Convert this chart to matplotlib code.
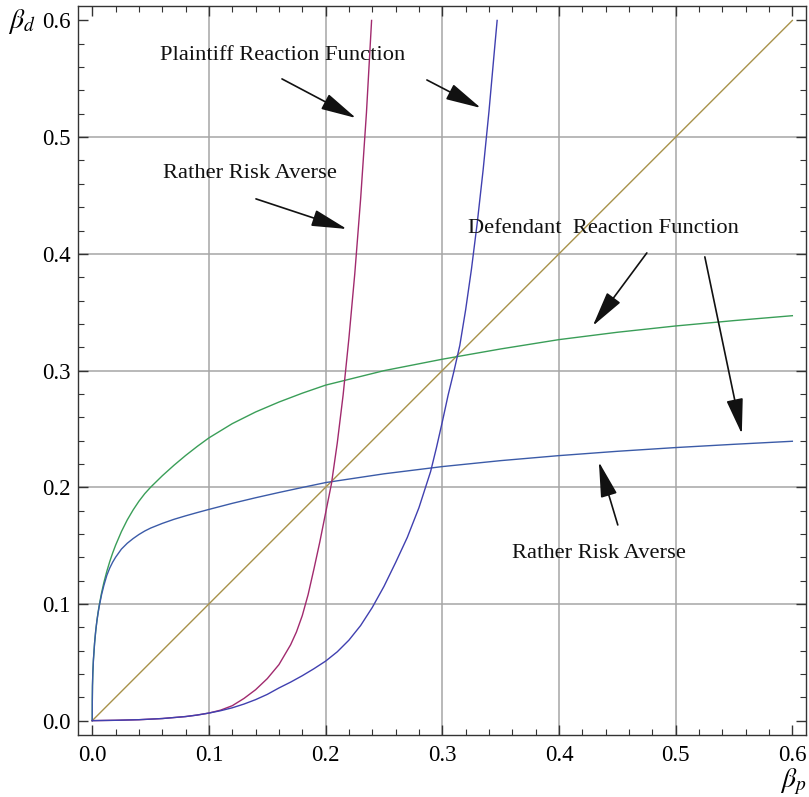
import numpy as np
import matplotlib.pyplot as plt
from matplotlib.ticker import MultipleLocator

plt.rcParams['font.family'] = ['Liberation Serif', 'DejaVu Serif']
plt.rcParams['mathtext.fontset'] = 'stix'

# 45 degree line
diag_x = [0.0, 0.6]
diag_y = [0.0, 0.6]

# defendant reaction function (green)
def_x = [0, 0.00005, 0.0002, 0.0005, 0.001, 0.002, 0.003, 0.004, 0.005, 0.006, 0.008,
         0.01, 0.0125, 0.015, 0.0175, 0.02, 0.025, 0.03, 0.035, 0.04, 0.045, 0.05,
         0.06, 0.07, 0.08, 0.09, 0.1, 0.12, 0.14, 0.16, 0.18, 0.2, 0.25, 0.3, 0.35,
         0.4, 0.45, 0.5, 0.55, 0.6]
def_y = [0, 0.017, 0.03, 0.041, 0.052, 0.0665, 0.0772, 0.0857, 0.0928, 0.099, 0.1096,
         0.1185, 0.128, 0.1363, 0.1437, 0.1503, 0.162, 0.172, 0.1805, 0.188, 0.1945, 0.2,
         0.2098, 0.2188, 0.2272, 0.235, 0.2423, 0.2545, 0.2645, 0.273, 0.2806, 0.2875, 0.2999, 0.3097, 0.3185,
         0.3265, 0.3328, 0.3382, 0.3428, 0.347]

# defendant, rather risk averse (blue)
defra_x = [0, 0.00005, 0.0002, 0.0005, 0.001, 0.002, 0.003, 0.004, 0.005, 0.006, 0.008,
           0.01, 0.0125, 0.015, 0.0175, 0.02, 0.025, 0.03, 0.035, 0.04, 0.045, 0.05,
           0.06, 0.07, 0.08, 0.09, 0.1, 0.12, 0.14, 0.16, 0.18, 0.2, 0.25, 0.3, 0.35,
           0.4, 0.45, 0.5, 0.55, 0.6]
defra_y = [0, 0.017, 0.03, 0.041, 0.052, 0.0665, 0.0772, 0.0855, 0.0922, 0.098, 0.108,
           0.116, 0.1245, 0.1308, 0.1358, 0.14, 0.147, 0.152, 0.156, 0.1595, 0.1625, 0.165,
           0.169, 0.1725, 0.1755, 0.1783, 0.181, 0.1862, 0.191, 0.1955, 0.1998, 0.204, 0.2115, 0.2177, 0.2228,
           0.2271, 0.2308, 0.234, 0.2368, 0.2394]

# plaintiff reaction function (magenta)
pl_x = [0, 0.02, 0.04, 0.06, 0.08, 0.09, 0.1, 0.11, 0.12, 0.13, 0.14, 0.15, 0.16, 0.17,
        0.175, 0.18, 0.185, 0.19, 0.195, 0.2, 0.205, 0.21, 0.215, 0.22, 0.225, 0.23,
        0.235, 0.2394]
pl_y = [0, 0.0003, 0.0008, 0.0018, 0.0035, 0.0048, 0.0065, 0.009, 0.0128, 0.019, 0.0265,
        0.036, 0.048, 0.065, 0.076, 0.09, 0.108, 0.13, 0.153, 0.178, 0.203, 0.238,
        0.279, 0.328, 0.383, 0.447, 0.521, 0.6]

# plaintiff, rather risk averse (purple blue)
plra_x = [0, 0.02, 0.04, 0.06, 0.08, 0.09, 0.1, 0.11, 0.12, 0.13, 0.14, 0.15, 0.16, 0.17,
          0.18, 0.19, 0.2, 0.21, 0.22, 0.23, 0.24, 0.25, 0.26, 0.27, 0.28, 0.29, 0.295,
          0.3, 0.305, 0.31, 0.315, 0.32, 0.325, 0.33, 0.335, 0.34, 0.345, 0.347]
plra_y = [0, 0.0003, 0.0008, 0.0018, 0.0035, 0.0048, 0.0065, 0.0085, 0.011, 0.0142, 0.018,
          0.0225, 0.028, 0.033, 0.0385, 0.0445, 0.051, 0.059, 0.069, 0.0815, 0.097, 0.115,
          0.1355, 0.157, 0.1825, 0.2135, 0.234, 0.256, 0.279, 0.2995, 0.3215, 0.352, 0.387,
          0.427, 0.472, 0.522, 0.578, 0.6]

ticks = [0.0, 0.1, 0.2, 0.3, 0.4, 0.5, 0.6]
tick_labels = ['0.0', '0.1', '0.2', '0.3', '0.4', '0.5', '0.6']

fig = plt.figure(figsize=(8.09, 7.97), dpi=100)
ax = fig.add_axes([0.096, 0.0778, 0.9, 0.9147])

for v in [0.1, 0.2, 0.3, 0.4, 0.5]:
    ax.axvline(v, color='#a6a6a6', lw=1.1, zorder=0)
    ax.axhline(v, color='#a6a6a6', lw=1.1, zorder=0)

ax.plot(diag_x, diag_y, color='#a8924a', lw=1.0)
ax.plot(def_x, def_y, color='#3a9e58', lw=1.0)
ax.plot(defra_x, defra_y, color='#3b5ba8', lw=1.0)
ax.plot(pl_x, pl_y, color='#a12a6e', lw=1.0)
ax.plot(plra_x, plra_y, color='#4040b0', lw=1.0)

ax.set_xlim(-0.0125, 0.6115)
ax.set_ylim(-0.0123, 0.6124)
ax.set_xticks(ticks)
ax.set_xticklabels(tick_labels)
ax.set_yticks(ticks)
ax.set_yticklabels(tick_labels)
ax.xaxis.set_minor_locator(MultipleLocator(0.02))
ax.yaxis.set_minor_locator(MultipleLocator(0.02))
ax.tick_params(which='both', direction='in', top=True, right=True, color='#333333', labelsize=16.5)
ax.tick_params(which='major', length=7, width=1)
ax.tick_params(which='minor', length=4, width=0.8)
ax.tick_params(axis='x', pad=7)
ax.tick_params(axis='y', pad=5)
for s in ax.spines.values():
    s.set_color('#333333')
    s.set_linewidth(1.0)

fig.text(8 / 809, 1 - 22 / 797, r'$\beta_d$', fontsize=20, ha='left', va='center')
fig.text(806 / 809, 1 - 767 / 797, r'$\beta_p$', fontsize=20, ha='right', va='top')

txt = dict(fontsize=16.2, ha='center', va='center', color='#111111')
ax.text(0.163, 0.5696, 'Plaintiff Reaction Function', **txt)
ax.text(0.135, 0.469, 'Rather Risk Averse', **txt)
ax.text(0.4385, 0.422, 'Defendant  Reaction Function', **txt)
ax.text(0.4346, 0.1428, 'Rather Risk Averse', **txt)

arrows = [((0.1626, 0.5499), (0.226, 0.5164)),
          ((0.1403, 0.4471), (0.2182, 0.4213)),
          ((0.2868, 0.549), (0.333, 0.525)),
          ((0.4753, 0.4008), (0.429, 0.3383)),
          ((0.5250, 0.3974), (0.5567, 0.2457)),
          ((0.4504, 0.1677), (0.4342, 0.2217))]
for start, end in arrows:
    ax.annotate('', xy=end, xytext=start,
                arrowprops=dict(arrowstyle='-|>,head_length=1.1,head_width=0.26',
                                mutation_scale=20, color='#111111', lw=1.2,
                                shrinkA=0, shrinkB=0))

fig.savefig('out.png', dpi=100)
